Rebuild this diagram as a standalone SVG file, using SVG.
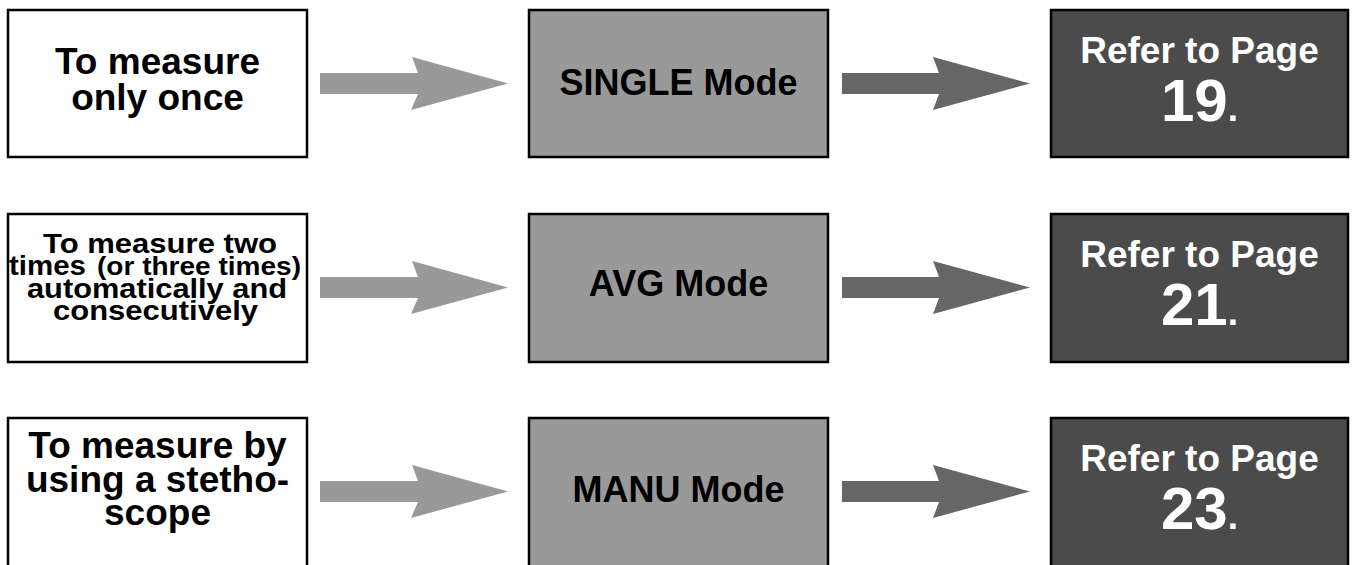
<svg xmlns="http://www.w3.org/2000/svg" xmlns:xlink="http://www.w3.org/1999/xlink" width="1352" height="565" viewBox="0 0 1352 565">
  <style>
    text { font-family: "Liberation Sans", Arial, Helvetica, sans-serif; font-weight: bold; text-anchor: middle; }
    .box { stroke: #000; stroke-width: 2.5; }
    .b1 { fill: #fff; }
    .b2 { fill: #999; }
    .b3 { fill: #4b4b4b; }
    .t1 { font-size: 37px; fill: #000; }
    .t1s { font-size: 28px; fill: #000; }
    .tm { font-size: 36px; fill: #000; }
    .tr { font-size: 37px; fill: #fff; }
    .tn { font-size: 60px; fill: #fff; }
    .tp { font-size: 37px; fill: #fff; }
    .a1 { fill: #999; }
    .a2 { fill: #666; }
  </style>
  <defs>
    <polygon id="arrowA" points="320,73 418,73 412,57 508,83.5 411,110 418,94 320,94"/>
    <polygon id="arrowB" points="842,73 939,73 933,57 1030,83.5 933,110 939,94 842,94"/>
  </defs>
  <rect width="1352" height="565" fill="#fff"/>

  <g id="connectors">
    <use xlink:href="#arrowA" class="a1"/>
    <use xlink:href="#arrowB" class="a2"/>
    <use xlink:href="#arrowA" class="a1" transform="translate(0,204)"/>
    <use xlink:href="#arrowB" class="a2" transform="translate(0,204)"/>
    <use xlink:href="#arrowA" class="a1" transform="translate(0,408)"/>
    <use xlink:href="#arrowB" class="a2" transform="translate(0,408)"/>
  </g>

  <!-- Row 1 -->
  <g id="once">
    <rect class="box b1" x="8" y="10" width="299" height="147"/>
    <text class="t1" x="157.5" y="74">To measure</text>
    <text class="t1" x="157.5" y="110">only once</text>
  </g>
  <g id="single">
    <rect class="box b2" x="529" y="10" width="299" height="147"/>
    <text class="tm" x="678.5" y="95">SINGLE Mode</text>
  </g>
  <g id="page19">
    <rect class="box b3" x="1051" y="10" width="297" height="147"/>
    <text class="tr" x="1199.5" y="63">Refer to Page</text>
    <text x="1199.5" y="121"><tspan class="tn">19</tspan><tspan class="tp">.</tspan></text>
  </g>

  <!-- Row 2 -->
  <g id="twice">
    <rect class="box b1" x="8" y="214" width="299" height="148"/>
    <text class="t1s" x="43" y="252.5" style="text-anchor:start" textLength="234" lengthAdjust="spacingAndGlyphs">To measure two</text>
    <text class="t1s" x="9" y="275" style="text-anchor:start" textLength="77" lengthAdjust="spacingAndGlyphs">times</text>
    <text x="97" y="275" style="text-anchor:start;font-size:25px" textLength="204" lengthAdjust="spacingAndGlyphs">(or three times)</text>
    <text class="t1s" x="27" y="297.5" style="text-anchor:start" textLength="260" lengthAdjust="spacingAndGlyphs">automatically and</text>
    <text class="t1s" x="53" y="320" style="text-anchor:start" textLength="205" lengthAdjust="spacingAndGlyphs">consecutively</text>
  </g>
  <g id="avg">
    <rect class="box b2" x="529" y="214" width="299" height="148"/>
    <text class="tm" x="678.5" y="296">AVG Mode</text>
  </g>
  <g id="page21">
    <rect class="box b3" x="1051" y="214" width="297" height="148"/>
    <text class="tr" x="1199.5" y="267">Refer to Page</text>
    <text x="1199.5" y="325"><tspan class="tn">21</tspan><tspan class="tp">.</tspan></text>
  </g>

  <!-- Row 3 -->
  <g id="stethoscope">
    <rect class="box b1" x="8" y="418" width="299" height="160"/>
    <text class="t1" x="157.5" y="458">To measure by</text>
    <text class="t1" x="157.5" y="491.5">using a stetho-</text>
    <text class="t1" x="157.5" y="525">scope</text>
  </g>
  <g id="manu">
    <rect class="box b2" x="529" y="418" width="299" height="160"/>
    <text class="tm" x="678.5" y="502">MANU Mode</text>
  </g>
  <g id="page23">
    <rect class="box b3" x="1051" y="418" width="297" height="160"/>
    <text class="tr" x="1199.5" y="471">Refer to Page</text>
    <text x="1199.5" y="529"><tspan class="tn">23</tspan><tspan class="tp">.</tspan></text>
  </g>
</svg>
